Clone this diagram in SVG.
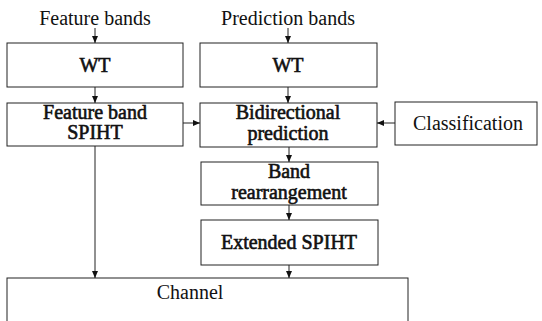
<svg xmlns="http://www.w3.org/2000/svg" width="542" height="321" viewBox="0 0 542 321">
<defs>
<marker id="ah" markerWidth="8" markerHeight="8" refX="7" refY="4" orient="auto" markerUnits="userSpaceOnUse">
<path d="M0,1 L7,4 L0,7 Z" fill="#111"/>
</marker>
<style>
rect{fill:#fff;stroke:#222;stroke-width:1}
text{font-family:"Liberation Serif","Times New Roman",serif;font-size:20px;fill:#111;text-anchor:middle}
.b{stroke:#111;stroke-width:0.6}
.c line{stroke:#222;stroke-width:1;marker-end:url(#ah)}
</style>
</defs>
<rect x="0" y="0" width="542" height="321" style="stroke:none"/>
<g id="lbl-feature"><text x="95" y="25">Feature bands</text></g>
<g id="lbl-prediction"><text x="288" y="25">Prediction bands</text></g>
<g id="wt1"><rect x="7" y="43" width="176" height="44"/><text class="b" x="95" y="72">WT</text></g>
<g id="wt2"><rect x="200" y="43" width="177" height="44"/><text class="b" x="288" y="72">WT</text></g>
<g id="fbspiht"><rect x="7" y="103" width="176" height="43"/><text class="b" x="95" y="119">Feature band</text><text class="b" x="95" y="139">SPIHT</text></g>
<g id="bidir"><rect x="200" y="103" width="177" height="44"/><text class="b" x="288" y="119">Bidirectional</text><text class="b" x="288" y="140">prediction</text></g>
<g id="classif"><rect x="395" y="102" width="142" height="43"/><text x="468" y="130">Classification</text></g>
<g id="bandre"><rect x="201" y="162" width="177" height="43"/><text class="b" x="289" y="178">Band</text><text class="b" x="289" y="199">rearrangement</text></g>
<g id="extspiht"><rect x="201" y="220" width="177" height="45"/><text class="b" x="289" y="249">Extended SPIHT</text></g>
<g id="channel"><rect x="7" y="278" width="401" height="60"/><text x="190" y="299">Channel</text></g>
<g class="c" id="connectors">
<line x1="95" y1="28" x2="95" y2="43"/>
<line x1="288" y1="28" x2="288" y2="43"/>
<line x1="95" y1="87" x2="95" y2="103"/>
<line x1="288" y1="87" x2="288" y2="103"/>
<line x1="183" y1="123" x2="200" y2="123"/>
<line x1="395" y1="123" x2="377" y2="123"/>
<line x1="289" y1="147" x2="289" y2="162"/>
<line x1="289" y1="205" x2="289" y2="220"/>
<line x1="95" y1="146" x2="95" y2="278"/>
<line x1="289" y1="265" x2="289" y2="278"/>
</g>
</svg>
